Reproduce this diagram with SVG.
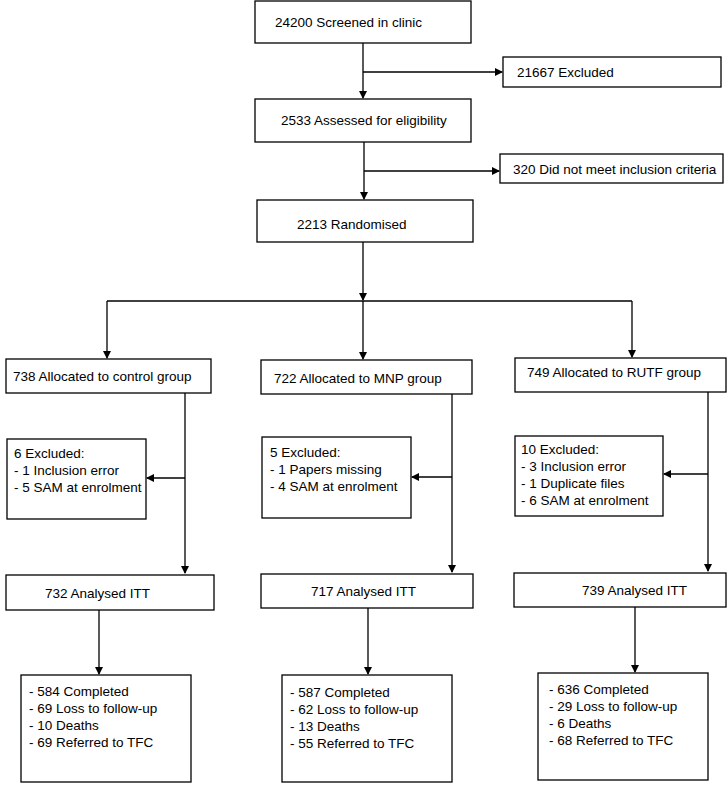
<svg xmlns="http://www.w3.org/2000/svg" width="727" height="800" viewBox="0 0 727 800">
<defs><marker id="a" markerWidth="8" markerHeight="8" refX="7" refY="4" orient="auto" markerUnits="userSpaceOnUse"><path d="M0,0 L8,4 L0,8 z" fill="#000"/></marker></defs>
<style>rect{fill:#fff;stroke:#000;stroke-width:1.3}text{font-family:"Liberation Sans",Arial,sans-serif;font-size:13.5px;fill:#000}#c line{stroke:#000;stroke-width:1.3}.m{marker-end:url(#a)}</style>
<rect width="727" height="800" style="stroke:none"/>
<g id="c">
<line x1="363" y1="43" x2="363" y2="98" class="m"/><line x1="363" y1="72" x2="502" y2="72" class="m"/>
<line x1="364" y1="142" x2="364" y2="199" class="m"/><line x1="364" y1="171" x2="499" y2="171" class="m"/>
<line x1="363" y1="242" x2="363" y2="300" class="m"/>
<line x1="107" y1="301" x2="632" y2="301"/>
<line x1="107" y1="301" x2="107" y2="358" class="m"/><line x1="363" y1="301" x2="363" y2="359" class="m"/><line x1="632" y1="301" x2="632" y2="357" class="m"/>
<line x1="185" y1="393" x2="185" y2="573" class="m"/><line x1="185" y1="478" x2="147" y2="478" class="m"/>
<line x1="452" y1="394" x2="452" y2="572" class="m"/><line x1="452" y1="477" x2="412" y2="477" class="m"/>
<line x1="708" y1="392" x2="708" y2="571" class="m"/><line x1="708" y1="474" x2="664" y2="474" class="m"/>
<line x1="99" y1="610" x2="99" y2="674" class="m"/><line x1="368" y1="608" x2="368" y2="674" class="m"/><line x1="635" y1="607" x2="635" y2="672" class="m"/>
</g>
<g id="n1"><rect x="255" y="1" width="216" height="42"/><text x="275" y="27">24200  Screened in clinic</text></g>
<g id="n2"><rect x="503" y="57" width="218" height="30"/><text x="517" y="77">21667 Excluded</text></g>
<g id="n3"><rect x="255" y="99" width="216" height="43"/><text x="281" y="125">2533 Assessed for eligibility</text></g>
<g id="n4"><rect x="500" y="154" width="223" height="29"/><text x="513" y="174">320 Did not meet inclusion criteria</text></g>
<g id="n5"><rect x="257" y="200" width="216" height="42"/><text x="297" y="229">2213 Randomised</text></g>
<g id="n6"><rect x="6" y="359" width="205" height="34"/><text x="13" y="381">738 Allocated to control group</text></g>
<g id="n7"><rect x="261" y="360" width="211" height="34"/><text x="274" y="383">722 Allocated to MNP group</text></g>
<g id="n8"><rect x="515" y="358" width="211" height="34"/><text x="527" y="377">749 Allocated to RUTF group</text></g>
<g id="n9"><rect x="7" y="439" width="139" height="80"/><text x="14" y="458">6 Excluded:</text><text x="14" y="475">- 1 Inclusion error</text><text x="14" y="492">- 5 SAM at enrolment</text></g>
<g id="n10"><rect x="262" y="437" width="149" height="81"/><text x="270" y="457">5 Excluded:</text><text x="270" y="474">- 1 Papers missing</text><text x="270" y="491">- 4 SAM at enrolment</text></g>
<g id="n11"><rect x="515" y="436" width="148" height="80"/><text x="521" y="454">10 Excluded:</text><text x="521" y="471">- 3 Inclusion error</text><text x="521" y="488">- 1 Duplicate files</text><text x="521" y="505">- 6 SAM at enrolment</text></g>
<g id="n12"><rect x="6" y="575" width="208" height="35"/><text x="45" y="598">732 Analysed ITT</text></g>
<g id="n13"><rect x="261" y="574" width="212" height="34"/><text x="311" y="596">717 Analysed ITT</text></g>
<g id="n14"><rect x="514" y="573" width="212" height="34"/><text x="582" y="595">739 Analysed ITT</text></g>
<g id="n15"><rect x="21" y="675" width="170" height="107"/><text x="29" y="696">- 584 Completed</text><text x="29" y="713">- 69 Loss to follow-up</text><text x="29" y="730">- 10 Deaths</text><text x="29" y="747">- 69 Referred to TFC</text></g>
<g id="n16"><rect x="282" y="675" width="170" height="107"/><text x="290" y="697">- 587 Completed</text><text x="290" y="714">- 62 Loss to follow-up</text><text x="290" y="731">- 13 Deaths</text><text x="290" y="748">- 55 Referred to TFC</text></g>
<g id="n17"><rect x="538" y="673" width="170" height="107"/><text x="549" y="694">- 636 Completed</text><text x="549" y="711">- 29 Loss to follow-up</text><text x="549" y="728">- 6 Deaths</text><text x="549" y="745">- 68 Referred to TFC</text></g>
</svg>
